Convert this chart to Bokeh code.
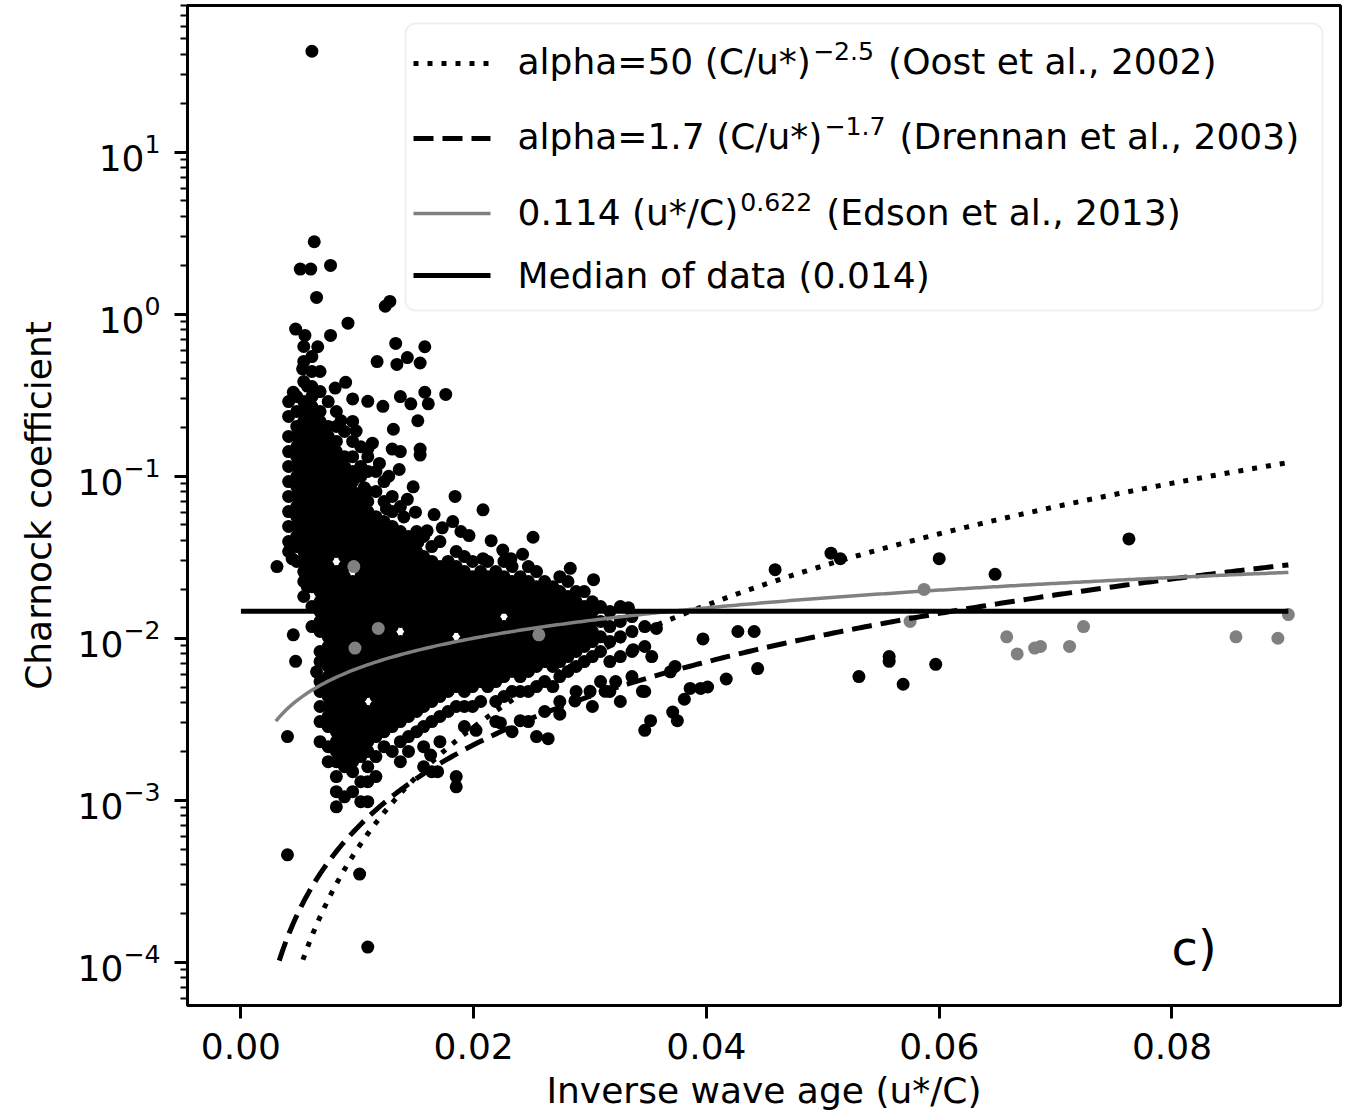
import numpy as np
from bokeh.plotting import figure
from bokeh.models import (FixedTicker, PrintfTickFormatter, LogTickFormatter, Label,
                          BoxAnnotation, Arrow, Range1d)
from bokeh.embed import file_html
from bokeh.resources import INLINE

# ---------------- data ----------------
# dense cloud, binned in narrow x-columns: x of each column and the y values read in it
cloud_col_x = [0.0041, 0.0048, 0.0054, 0.0061, 0.0068, 0.0075, 0.0082, 0.0089, 0.0096, 0.0103,
               0.0109, 0.0116, 0.0123, 0.0130, 0.0137, 0.0144, 0.0151, 0.0157, 0.0164, 0.0171,
               0.0178, 0.0185, 0.0192, 0.0199, 0.0206, 0.0212, 0.0219, 0.0226, 0.0233, 0.0240,
               0.0247, 0.0254, 0.0261, 0.0268, 0.0274, 0.0281, 0.0288, 0.0295, 0.0302, 0.0309,
               0.0317, 0.0326, 0.0336, 0.0347]
cloud_col_y = [
    [0.289, 0.234, 0.176, 0.142, 0.115, 0.0927, 0.075, 0.0605, 0.049, 0.0395, 0.0343],
    [0.310, 0.251, 0.203, 0.176, 0.152, 0.132, 0.115, 0.0996, 0.0863, 0.075, 0.065, 0.0563, 0.049,
     0.0425, 0.0368, 0.0298],
    [0.632, 0.511, 0.384, 0.289, 0.251, 0.218, 0.189, 0.164, 0.142, 0.123, 0.107, 0.0927, 0.0805,
     0.0698, 0.0605, 0.0525, 0.0456, 0.0395, 0.0343, 0.0298, 0.0258, 0.0224, 0.0181],
    [0.548, 0.443, 0.358, 0.310, 0.269, 0.234, 0.203, 0.176, 0.152, 0.132, 0.115, 0.0996, 0.0863,
     0.075, 0.065, 0.0563, 0.049, 0.0425, 0.0368, 0.0319, 0.0277, 0.024, 0.0208, 0.0157, 0.0118],
    [0.443, 0.333, 0.251, 0.218, 0.189, 0.164, 0.142, 0.123, 0.107, 0.0927, 0.0805, 0.0698, 0.0605,
     0.0525, 0.0456, 0.0395, 0.0343, 0.0298, 0.0258, 0.0224, 0.0194, 0.0168, 0.0146, 0.0127, 0.0110,
     0.00828, 0.00718, 0.0054, 0.00469, 0.00379, 0.00306, 0.0023],
    [0.289, 0.203, 0.176, 0.152, 0.132, 0.115, 0.0996, 0.0863, 0.075, 0.065, 0.0563, 0.049, 0.0425,
     0.0368, 0.0319, 0.0277, 0.024, 0.0208, 0.0181, 0.0157, 0.0136, 0.0118, 0.0102, 0.00889, 0.00771,
     0.00669, 0.0058, 0.00503, 0.00437, 0.00379, 0.00329, 0.00285, 0.00214, 0.00173],
    [0.251, 0.203, 0.164, 0.142, 0.123, 0.107, 0.0927, 0.0805, 0.0698, 0.0605, 0.0525, 0.0456, 0.0395,
     0.0343, 0.0258, 0.0224, 0.0194, 0.0168, 0.0146, 0.0127, 0.0110, 0.00954, 0.00828, 0.00718,
     0.00623, 0.0054, 0.00469, 0.00407, 0.00353, 0.00306, 0.00265, 0.0023, 0.002, 0.00173, 0.0014,
     0.00113, 0.00091],
    [0.189, 0.132, 0.115, 0.0996, 0.0863, 0.075, 0.065, 0.0563, 0.049, 0.0425, 0.0368, 0.0319, 0.0277,
     0.024, 0.0208, 0.0181, 0.0157, 0.0136, 0.0118, 0.0102, 0.00889, 0.00771, 0.00669, 0.0058,
     0.00503, 0.00437, 0.00379, 0.00329, 0.00285, 0.00247, 0.00214, 0.00186, 0.00161, 0.00105],
    [0.218, 0.164, 0.132, 0.107, 0.0927, 0.0805, 0.0698, 0.0605, 0.0525, 0.0456, 0.0395, 0.0343,
     0.0298, 0.0224, 0.0194, 0.0168, 0.0146, 0.0127, 0.0110, 0.00954, 0.00828, 0.00718, 0.00623,
     0.0054, 0.00469, 0.00407, 0.00353, 0.00306, 0.00265, 0.0023, 0.002, 0.00173, 0.0015, 0.00113],
    [0.152, 0.115, 0.0996, 0.075, 0.065, 0.0563, 0.049, 0.0425, 0.0368, 0.0319, 0.0277, 0.024, 0.0208,
     0.0181, 0.0157, 0.0136, 0.0118, 0.0102, 0.00889, 0.00771, 0.00669, 0.0058, 0.00503, 0.00437,
     0.00379, 0.00329, 0.00285, 0.00247, 0.00214, 0.00186, 0.0013, 0.00098],
    [0.132, 0.107, 0.0805, 0.0698, 0.0605, 0.0525, 0.0456, 0.0395, 0.0343, 0.0298, 0.0258, 0.0224,
     0.0194, 0.0168, 0.0146, 0.0127, 0.0110, 0.00954, 0.00828, 0.00718, 0.00623, 0.0054, 0.00469,
     0.00353, 0.00306, 0.00265, 0.0023, 0.002, 0.00161, 0.0013, 0.00098],
    [0.107, 0.0805, 0.0563, 0.049, 0.0425, 0.0368, 0.0319, 0.0277, 0.024, 0.0208, 0.0181, 0.0157,
     0.0136, 0.0118, 0.0102, 0.00889, 0.00771, 0.00669, 0.0058, 0.00503, 0.00437, 0.00379, 0.00329,
     0.00285, 0.00247, 0.00186, 0.0014],
    [0.0927, 0.0698, 0.0525, 0.0456, 0.0395, 0.0343, 0.0298, 0.0258, 0.0224, 0.0194, 0.0168, 0.0146,
     0.0127, 0.0110, 0.00954, 0.00828, 0.00718, 0.00623, 0.0054, 0.00469, 0.00407, 0.00353, 0.00306,
     0.00265, 0.00214],
    [0.075, 0.0605, 0.049, 0.0425, 0.0368, 0.0319, 0.0277, 0.024, 0.0208, 0.0181, 0.0157, 0.0136,
     0.0118, 0.0102, 0.00889, 0.00771, 0.00669, 0.0058, 0.00503, 0.00437, 0.00379, 0.00329, 0.00285,
     0.002],
    [0.065, 0.0456, 0.0395, 0.0343, 0.0298, 0.0258, 0.0224, 0.0194, 0.0168, 0.0146, 0.0127, 0.00954,
     0.00828, 0.00718, 0.00623, 0.0054, 0.00469, 0.00407, 0.00353, 0.00306, 0.0023, 0.00173],
    [0.0425, 0.0368, 0.0319, 0.0277, 0.024, 0.0208, 0.0181, 0.0157, 0.0136, 0.0118, 0.0102, 0.00889,
     0.00771, 0.00669, 0.0058, 0.00503, 0.00437, 0.00379, 0.00329, 0.00247, 0.002],
    [0.0456, 0.0343, 0.0298, 0.0258, 0.0224, 0.0194, 0.0168, 0.0146, 0.0127, 0.0110, 0.00954, 0.00828,
     0.00718, 0.00623, 0.0054, 0.00469, 0.00407, 0.00353, 0.00265],
    [0.0425, 0.0319, 0.0277, 0.024, 0.0208, 0.0181, 0.0157, 0.0136, 0.0118, 0.0102, 0.00889, 0.00771,
     0.00669, 0.0058, 0.00503, 0.00437, 0.00379, 0.00285, 0.00214, 0.00161],
    [0.0368, 0.0298, 0.0258, 0.0224, 0.0194, 0.0168, 0.0146, 0.0127, 0.0110, 0.00954, 0.00828,
     0.00718, 0.00623, 0.0054, 0.00469, 0.00407, 0.00306, 0.0015],
    [0.0395, 0.0277, 0.024, 0.0208, 0.0181, 0.0157, 0.0136, 0.0118, 0.0102, 0.00889, 0.00771, 0.00669,
     0.0058, 0.00503, 0.00437, 0.00329, 0.0023],
    [0.0298, 0.0258, 0.0224, 0.0194, 0.0168, 0.0146, 0.0127, 0.0110, 0.00954, 0.00828, 0.00718,
     0.00623, 0.0054, 0.00469, 0.00353],
    [0.0343, 0.0277, 0.024, 0.0208, 0.0181, 0.0157, 0.0136, 0.0118, 0.00889, 0.00771, 0.00669, 0.0058,
     0.00503, 0.00379, 0.0014, 0.00121],
    [0.0319, 0.0258, 0.0224, 0.0194, 0.0168, 0.0146, 0.0127, 0.0110, 0.00954, 0.00828, 0.00718,
     0.00623, 0.0054, 0.00469, 0.00379, 0.00285],
    [0.0298, 0.024, 0.0208, 0.0181, 0.0157, 0.0136, 0.0118, 0.0102, 0.00889, 0.00771, 0.00669, 0.0058,
     0.00503, 0.00379],
    [0.0258, 0.0224, 0.0194, 0.0168, 0.0146, 0.0127, 0.0110, 0.00954, 0.00828, 0.00718, 0.00623,
     0.0054, 0.00407],
    [0.0298, 0.024, 0.0208, 0.0181, 0.0157, 0.0136, 0.0118, 0.0102, 0.00889, 0.00771, 0.00669, 0.0058,
     0.00503],
    [0.0258, 0.0224, 0.0194, 0.0168, 0.0146, 0.0127, 0.0110, 0.00954, 0.00828, 0.00718, 0.00623,
     0.0054, 0.00407, 0.00306],
    [0.0298, 0.024, 0.0208, 0.0181, 0.0157, 0.0118, 0.0102, 0.00889, 0.00771, 0.00669, 0.0058,
     0.00437],
    [0.0277, 0.0224, 0.0194, 0.0168, 0.0146, 0.0127, 0.0110, 0.00954, 0.00828, 0.00718, 0.00623,
     0.00469, 0.00265],
    [0.024, 0.0208, 0.0181, 0.0157, 0.0136, 0.0118, 0.0102, 0.00889, 0.00771, 0.00669, 0.0058,
     0.00469],
    [0.0277, 0.0224, 0.0194, 0.0168, 0.0146, 0.0127, 0.0110, 0.00954, 0.00828, 0.00718, 0.00623,
     0.00469, 0.00306],
    [0.0258, 0.0208, 0.0181, 0.0157, 0.0136, 0.0118, 0.0102, 0.00889, 0.00771, 0.00669, 0.00503,
     0.00247],
    [0.0224, 0.0194, 0.0168, 0.0146, 0.0127, 0.0110, 0.00954, 0.00828, 0.00718, 0.0054, 0.00353],
    [0.0208, 0.0181, 0.0157, 0.0136, 0.0118, 0.0102, 0.00889, 0.00771, 0.00669, 0.00503],
    [0.024, 0.0194, 0.0168, 0.0146, 0.0127, 0.0110, 0.00954, 0.00828, 0.00718, 0.0058, 0.00407],
    [0.0224, 0.0181, 0.0157, 0.0136, 0.0118, 0.0102, 0.00889, 0.00771, 0.00623],
    [0.0194, 0.0168, 0.0146, 0.0127, 0.0110, 0.00954, 0.00828, 0.00669, 0.00469],
    [0.0194, 0.0157, 0.0136, 0.0118, 0.0102, 0.00889, 0.00718],
    [0.0168, 0.0146, 0.0127, 0.0110, 0.00954, 0.00771, 0.00379],
    [0.0157, 0.0127, 0.0102, 0.00828, 0.0054],
    [0.0146, 0.0118, 0.00954, 0.00718, 0.00469],
    [0.0157, 0.0127, 0.0102, 0.00771, 0.00407],
    [0.0136, 0.011, 0.00828, 0.0058],
    [0.0118, 0.00889, 0.00469],
]

# scattered black points outside the dense core
extra_x = [0.0061, 0.0063, 0.0051, 0.0060, 0.0077, 0.0065, 0.0124, 0.0128, 0.0047, 0.0055,
           0.0066, 0.0077, 0.0092, 0.0053, 0.0045, 0.0057, 0.0062, 0.0081, 0.0090, 0.0096,
           0.0109, 0.0117, 0.0133, 0.0134, 0.0143, 0.0158, 0.0154, 0.0122, 0.0137, 0.0146,
           0.0158, 0.0176, 0.0161, 0.0152, 0.0131, 0.0154, 0.0154, 0.0130, 0.0137, 0.0109,
           0.0148, 0.0150, 0.0184, 0.0208, 0.0182, 0.0189, 0.0251, 0.0160, 0.0152, 0.0225,
           0.0232, 0.0208, 0.0303,
           0.0086, 0.0099, 0.0113, 0.0119, 0.0127, 0.0106, 0.0136, 0.0143, 0.0125, 0.0140,
           0.0166, 0.0173, 0.0196, 0.0215, 0.0242, 0.0283,
           0.0031, 0.0044, 0.0057, 0.0045, 0.0047, 0.0065, 0.0040, 0.0040, 0.0102, 0.0109,
           0.0163, 0.0169, 0.0202, 0.0223, 0.0240, 0.0264, 0.0274, 0.0287, 0.0300, 0.0313, 0.0322,
           0.0333, 0.0337, 0.0345, 0.0353, 0.0357, 0.0369, 0.0373, 0.0381, 0.0395, 0.0401,
           0.0397, 0.0417, 0.0427, 0.0441, 0.0444, 0.0352, 0.0347, 0.0371, 0.0375, 0.0386,
           0.0459, 0.0507, 0.0515, 0.0600, 0.0648, 0.0763, 0.0531, 0.0557, 0.0557, 0.0569, 0.0597]
extra_y = [42.0, 2.8, 1.9, 1.9, 2.0, 1.27, 1.12, 1.2, 0.81, 0.74,
           0.63, 0.74, 0.88, 0.46, 0.33, 0.36, 0.32, 0.35, 0.38, 0.30,
           0.29, 0.51, 0.66, 0.49, 0.54, 0.63, 0.50, 0.27, 0.31, 0.28,
           0.33, 0.32, 0.28, 0.22, 0.195, 0.147, 0.135, 0.147, 0.142, 0.147,
           0.086, 0.060, 0.075, 0.062, 0.0525, 0.0456, 0.042, 0.046, 0.039, 0.035,
           0.031, 0.031, 0.023,
           0.22, 0.19, 0.16, 0.12, 0.10, 0.085, 0.11, 0.072, 0.063, 0.056,
           0.058, 0.048, 0.043, 0.040, 0.033, 0.027,
           0.0277, 0.031, 0.0208, 0.0105, 0.0072, 0.0062, 0.00247, 0.00046, 0.00035, 0.000124,
           0.0019, 0.0015, 0.0027, 0.0030, 0.0031, 0.0024, 0.0034, 0.0041, 0.0047, 0.0047, 0.0054,
           0.0154, 0.0085, 0.0047, 0.0077, 0.0115, 0.0062, 0.0067, 0.0042, 0.0049, 0.0050,
           0.0099, 0.0056, 0.0110, 0.0110, 0.0065, 0.0031, 0.0027, 0.0035, 0.0031, 0.0049,
           0.0265, 0.0335, 0.031, 0.031, 0.0248, 0.041, 0.0058, 0.0077, 0.0072, 0.0052, 0.0069]

# grey points
grey_x = [0.0097, 0.0118, 0.0098, 0.0256, 0.0575, 0.0587, 0.0658, 0.0667, 0.0682, 0.0687,
          0.0712, 0.0724, 0.0855, 0.0891, 0.0900]
grey_y = [0.0277, 0.0115, 0.0087, 0.0105, 0.0127, 0.020, 0.0102, 0.0080, 0.0087, 0.0089,
          0.0089, 0.0118, 0.0102, 0.0100, 0.0140]

# parameterisations from the legend
curve_x_start, curve_x_end = 0.003, 0.09
OOST_A, OOST_B = 50.0, 2.5
DRENNAN_A, DRENNAN_B = 1.7, 1.7
EDSON_A, EDSON_B = 0.114, 0.622
MEDIAN = 0.0147
median_x_span = [0.0, 0.09]
min_plotted = 1e-4

x_ticks = [0.0, 0.02, 0.04, 0.06, 0.08]
y_ticks = [1e-4, 1e-3, 1e-2, 1e-1, 1e0, 1e1]

# ---------------- figure ----------------
FL, FB = 187, 1005   # frame left / bottom in page pixels (for screen-unit annotations)
YLO, YHI = 10 ** -4.267, 10 ** 1.9056
p = figure(width=1353, height=1118, y_axis_type="log",
           x_range=Range1d(-0.00459, 0.09448), y_range=Range1d(YLO, YHI),
           output_backend="svg", toolbar_location=None,
           min_border_left=FL, min_border_right=13, min_border_top=5, min_border_bottom=113)
p.background_fill_color = "white"
p.border_fill_color = "white"
p.xgrid.visible = False
p.ygrid.visible = False
p.outline_line_color = "black"
p.outline_line_width = 3

bx, by = [], []
for cx, ys in zip(cloud_col_x, cloud_col_y):
    bx.extend([cx] * len(ys))
    by.extend(ys)
bx.extend(extra_x)
by.extend(extra_y)

p.scatter(bx, by, size=13, fill_color="black", line_color=None)
p.scatter(grey_x, grey_y, size=13, fill_color="#808080", line_color=None)

xc = np.linspace(curve_x_start, curve_x_end, 300)
oost = OOST_A * xc ** OOST_B
dren = DRENNAN_A * xc ** DRENNAN_B
edson = EDSON_A * xc ** EDSON_B
oost = np.where(oost >= min_plotted, oost, np.nan)
dren = np.where(dren >= min_plotted, dren, np.nan)

p.line(xc, oost, line_color="black", line_width=5, line_dash="5 9")
p.line(xc, dren, line_color="black", line_width=5, line_dash="20 9")
p.line(xc, edson, line_color="#808080", line_width=3.5)
p.line(median_x_span, [MEDIAN, MEDIAN], line_color="black", line_width=5)

# axes
FONT = "DejaVu Sans"
for ax in (p.xaxis[0], p.yaxis[0]):
    ax.axis_line_color = "black"
    ax.axis_line_width = 3
    ax.major_tick_line_width = 3
    ax.major_tick_out = 13
    ax.major_tick_in = 0
    ax.minor_tick_line_width = 2
    ax.minor_tick_out = 7
    ax.minor_tick_in = 0
    ax.major_label_text_font = FONT
    ax.major_label_text_font_size = "36px"
    ax.major_label_text_color = "black"
    ax.axis_label_text_font = FONT
    ax.axis_label_text_font_size = "36px"
    ax.axis_label_text_font_style = "normal"
    ax.axis_label_text_color = "black"

p.xaxis.ticker = FixedTicker(ticks=x_ticks, minor_ticks=[])
p.xaxis.formatter = PrintfTickFormatter(format="%.2f")
p.xaxis.major_label_standoff = 14
p.xaxis.axis_label = "Inverse wave age (u*/C)"
p.xaxis.axis_label_standoff = 8

minor = [m * 10.0 ** e for e in range(-5, 2) for m in range(2, 10)]
minor = [v for v in minor if YLO <= v <= YHI]
p.yaxis.ticker = FixedTicker(ticks=y_ticks, minor_ticks=minor)
p.yaxis.formatter = LogTickFormatter()
p.yaxis.major_label_standoff = 14
p.yaxis.axis_label = "Charnock coefficient"
p.yaxis.axis_label_standoff = 16

# ---------------- legend (built by hand so superscripts are real text) ----------------
EM = {' ': .318, '(': .390, ')': .390, '*': .500, ',': .318, '-': .361, '.': .318, '/': .337,
      '=': .838, '−': .838, 'C': .698, 'D': .770, 'E': .632, 'M': .863, 'O': .787,
      'a': .613, 'd': .635, 'e': .615, 'f': .352, 'h': .634, 'i': .278, 'l': .278, 'n': .634,
      'o': .612, 'p': .635, 'r': .411, 's': .521, 't': .392, 'u': .634}


def text_w(s, size):
    return sum(EM.get(ch, .636) for ch in s) * size


legend_rows = [
    ("alpha=50 (C/u*)", "−2.5", " (Oost et al., 2002)", "5 9", "black", 5),
    ("alpha=1.7 (C/u*)", "−1.7", " (Drennan et al., 2003)", "20 9", "black", 5),
    ("0.114 (u*/C)", "0.622", " (Edson et al., 2013)", "solid", "#808080", 3.5),
    ("Median of data (0.014)", "", "", "solid", "black", 5),
]
row_base_py = [61, 136, 212, 275]
row_line_py = [63, 138, 213, 275]

p.add_layout(BoxAnnotation(left=405 - FL, right=1322 - FL, top=FB - 23, bottom=FB - 310,
                           left_units="screen", right_units="screen",
                           top_units="screen", bottom_units="screen",
                           fill_color="white", fill_alpha=0.8, line_color="#cccccc",
                           line_width=2, border_radius=10))

FS, SFS = 36, 25.2
TX = 517
for (main, sup, tail, dash, col, lw), bpy, lpy in zip(legend_rows, row_base_py, row_line_py):
    p.add_layout(Arrow(x_start=413 - FL, x_end=490 - FL, y_start=FB - lpy, y_end=FB - lpy,
                       start_units="screen", end_units="screen", end=None,
                       line_color=col, line_width=lw, line_dash=dash))
    p.add_layout(Label(x=TX - FL, y=FB - bpy, x_units="screen", y_units="screen", text=main,
                       text_font=FONT, text_font_size=f"{FS}px", text_baseline="alphabetic",
                       text_color="black"))
    if sup:
        sx = TX + text_w(main, FS) + 2
        p.add_layout(Label(x=sx - FL, y=FB - bpy + 11, x_units="screen", y_units="screen",
                           text=sup, text_font=FONT, text_font_size=f"{SFS}px",
                           text_baseline="alphabetic", text_color="black"))
        tx = sx + text_w(sup, SFS) + 14
        p.add_layout(Label(x=tx - FL, y=FB - bpy, x_units="screen", y_units="screen", text=tail,
                           text_font=FONT, text_font_size=f"{FS}px", text_baseline="alphabetic",
                           text_color="black"))

# panel tag
p.add_layout(Label(x=1171 - FL, y=FB - 947, x_units="screen", y_units="screen", text="c)",
                   text_font=FONT, text_font_size="48px", text_baseline="alphabetic",
                   text_color="black"))

open("out.html", "w").write(file_html(p, INLINE))
